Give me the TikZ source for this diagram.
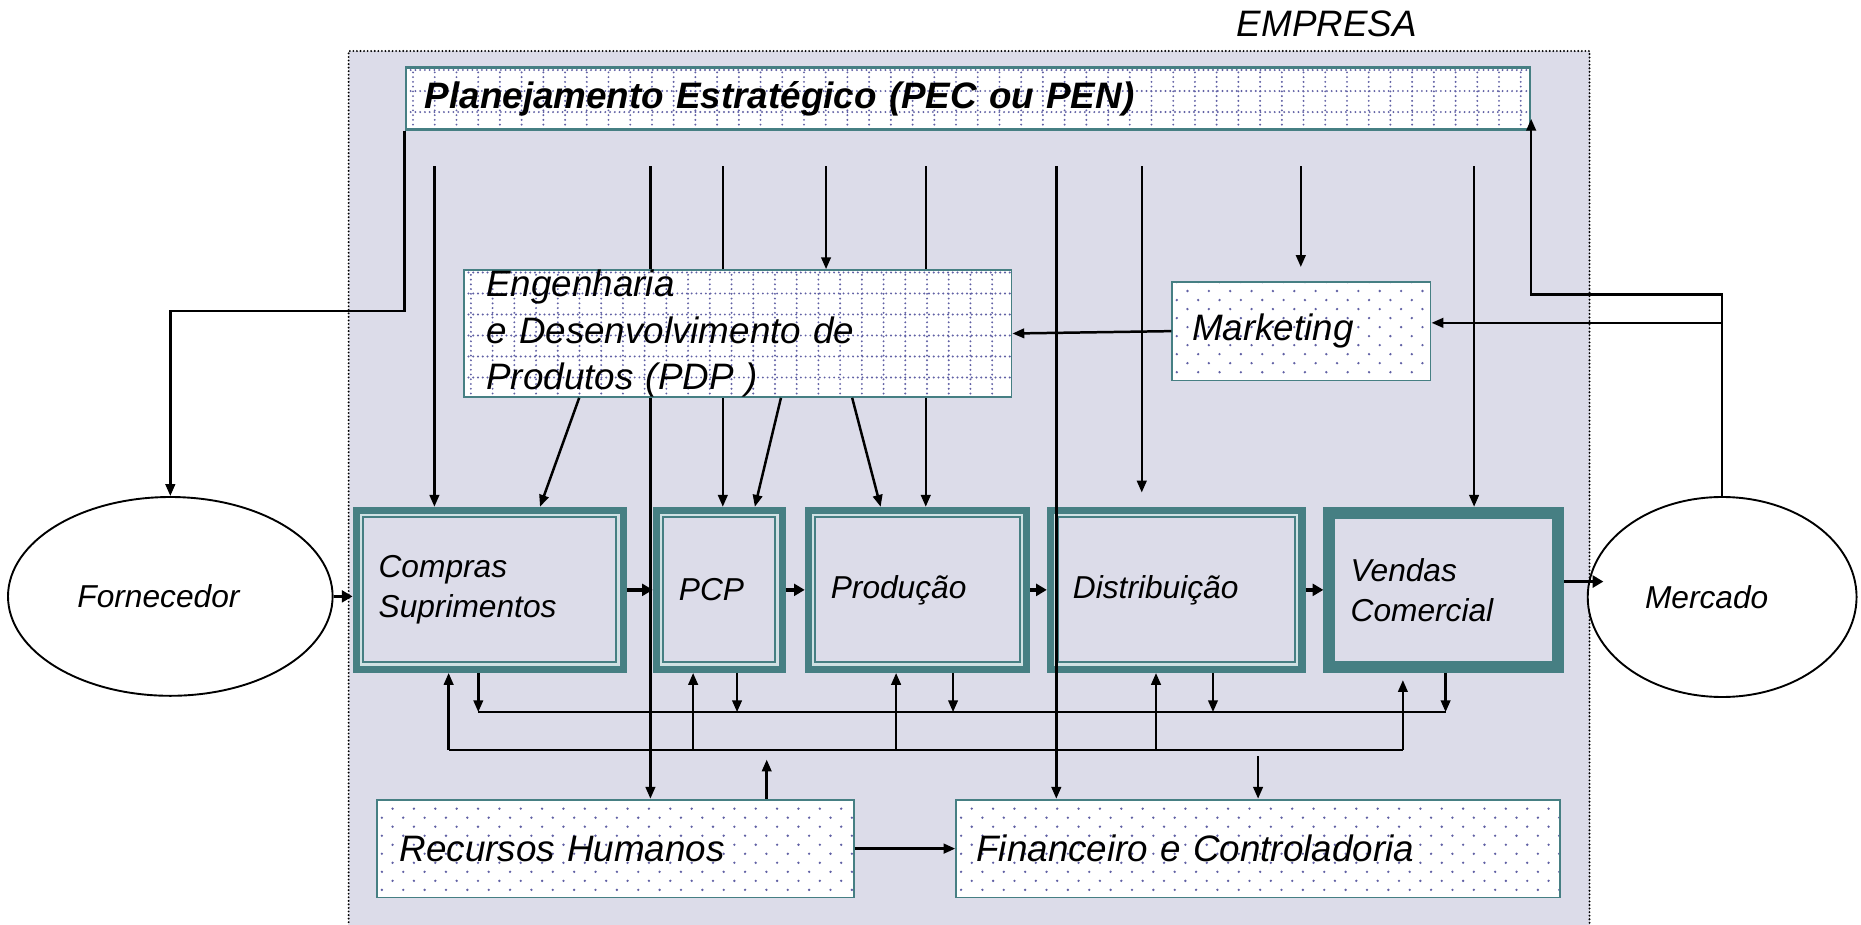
\documentclass[tikz,border=0pt]{standalone}
\usepackage{fontspec}
\setmainfont{Liberation Sans}
\usetikzlibrary{arrows.meta,shapes.geometric}

\definecolor{empresafill}{RGB}{220,220,233}
\definecolor{tealband}{RGB}{70,127,131}
\definecolor{lightband}{RGB}{208,226,228}
\definecolor{patdot}{RGB}{96,96,164}

\tikzset{
  region/.style={draw=black, line width=1.8pt, line cap=round, dash pattern=on 0pt off 3pt, fill=empresafill, inner sep=0pt},
  big/.style={font=\fontsize{31}{39}\selectfont\itshape},
  mid/.style={font=\fontsize{26.7}{34}\selectfont\itshape},
  gridfill/.style={draw=tealband, fill=white, align=left, inner xsep=19pt, inner ysep=0pt, path picture={
      \foreach \i in {0,...,55}
        \draw[patdot, line width=1.8pt, line cap=round, dash pattern=on 0pt off 4pt]
          ([xshift=\i*18.3pt+6pt]path picture bounding box.north west) -- ([xshift=\i*18.3pt+6pt]path picture bounding box.south west);
      \foreach \j in {0,...,7}
        \draw[patdot, line width=1.8pt, line cap=round, dash pattern=on 0pt off 4pt]
          ([yshift=-\j*17.7pt-2pt]path picture bounding box.north west) -- ([yshift=-\j*17.7pt-2pt]path picture bounding box.north east);
    }},
  dotfill/.style={draw=tealband, fill=white, align=left, inner xsep=17pt, path picture={
      \foreach \i in {0,...,60}{
        \pgfmathsetmacro\ph{mod(\i,2)*7.6}
        \draw[patdot, line width=2.2pt, line cap=round, dash pattern=on 0pt off 15.2pt, dash phase=\ph pt]
          ([xshift=\i*9pt+4pt]path picture bounding box.north west) -- ([xshift=\i*9pt+4pt]path picture bounding box.south west);
      }}},
  stagebase/.style={draw=tealband, line width=6pt, fill=empresafill, align=left, inner xsep=19pt, mid, minimum height=134pt},
  stage/.style={stagebase, path picture={
      \draw[lightband, line width=2pt] ([shift={(4.1pt,-4.1pt)}]path picture bounding box.north west) rectangle ([shift={(-4.1pt,4.1pt)}]path picture bounding box.south east);
      \draw[tealband, line width=1.7pt] ([shift={(6pt,-6pt)}]path picture bounding box.north west) rectangle ([shift={(-6pt,6pt)}]path picture bounding box.south east);
    }},
  party/.style={ellipse, draw=black, line width=1.6pt, fill=white, inner sep=0pt, mid},
  conn/.style={line width=2.1pt},
  arr/.style={conn, -{Triangle[length=10pt,width=8pt]}},
  flow/.style={line width=3pt, -{Triangle[length=9pt,width=10pt]}}
}

\begin{document}
\begin{tikzpicture}[x={(1pt,0)}, y={(0,-1pt)}]
\useasboundingbox (0,0) rectangle (1568,779);

\node[region, minimum width=1045.5pt, minimum height=757pt] (empresa) at (816.5,421.5) {};
\node[big] (lblemp) at (1118,20) {EMPRESA};

\node[gridfill, line width=2.2pt, minimum width=947pt, minimum height=52pt, text width=915pt, inner xsep=16pt, font=\fontsize{31}{38}\selectfont\bfseries\itshape] (pec) at (815.5,83) {Planejamento Estratégico (PEC ou PEN)};

\node[party, minimum width=273.5pt, minimum height=167.5pt] (forn) at (143.5,502.5) {Fornecedor\hspace*{20pt}};
\node[party, minimum width=226.5pt, minimum height=168.5pt] (mer) at (1451,503) {Mercado\hspace*{26pt}};

\node[stage, minimum width=225pt, text width=187pt] (cmp) at (412.5,497) {Compras\\Suprimentos};
\node[stage, minimum width=106pt, text width=68pt] (pcp) at (606,497) {PCP};
\node[stage, minimum width=184pt, text width=146pt] (prd) at (773,497) {Produção};
\node[stage, minimum width=212pt, text width=174pt] (dst) at (991,497) {Distribuição};
\node[stagebase, line width=10pt, minimum width=193pt, minimum height=130pt, text width=157pt, inner xsep=18pt] (vnd) at (1216.5,497) {Vendas\\Comercial};

\node[dotfill, line width=1.2pt, big, minimum width=218pt, minimum height=82.8pt, text width=184pt] (mkt) at (1096.5,279) {Marketing};
\node[dotfill, line width=1.5pt, big, minimum width=401.5pt, minimum height=82.5pt, text width=363.5pt, inner xsep=19pt] (rh) at (518.5,715) {Recursos Humanos};
\node[dotfill, line width=1.5pt, big, minimum width=508.5pt, minimum height=82.5pt, text width=474.5pt] (fin) at (1060,715) {Financeiro e Controladoria};

\foreach \n/\x in {a/366,b/548,c/609,d/696,e/780,f/890,g/962,h/1096,i/1242}
  \coordinate (d\n) at (\x,140);

\draw[arr] (db) -- (db |- rh.north);
\draw[arr] (dc) -- (dc |- pcp.north);
\draw[arr] (de) -- (de |- prd.north);

\node[gridfill, line width=1.5pt, big, minimum width=461.5pt, minimum height=106.5pt, text width=423.5pt] (eng) at (621.5,281) {Engenharia\\e Desenvolvimento de\\Produtos (PDP )};

\draw[arr] (da) -- (da |- cmp.north);
\draw[arr] (dd) -- (dd |- eng.north);
\draw[arr] (df) -- (df |- fin.north);
\draw[arr, shorten >=12pt] (dg) -- (dg |- dst.north);
\draw[arr, shorten >=12pt] (dh) -- (dh |- mkt.north);
\draw[arr] (di) -- (di |- vnd.north);

\draw[arr] (pec.south west) -- ++(0,152) -| (forn.north);
\draw[arr] (mer.north) -- ++(0,-170) -| ([yshift=10pt]pec.south east);
\draw[arr] (mer.north) |- ([yshift=7pt]mkt.east);
\draw[arr] (mkt.west) -- (eng.east);

\draw[arr] ([xshift=98pt]eng.south west) -- ([xshift=158pt]cmp.north west);
\draw[arr] ([xshift=268pt]eng.south west) -- ([xshift=86pt]pcp.north west);
\draw[arr] ([xshift=328pt]eng.south west) -- ([xshift=64pt]prd.north west);

\coordinate (mer-in) at ([xshift=14pt]mer.west);
\coordinate (vnd-out) at ([yshift=7pt]vnd.east);
\draw[flow] (forn.east) -- (forn.east -| cmp.west);
\draw[flow] (cmp.east) -- (pcp.west);
\draw[flow] (pcp.east) -- (prd.west);
\draw[flow] (prd.east) -- (dst.west);
\draw[flow] (dst.east) -- (vnd.west);
\draw[flow] (vnd-out) -- (vnd-out -| mer-in);

\coordinate (busa) at (0,600);
\coordinate (busb) at (0,632);
\foreach \b/\s/\t in {cmp/106/81,pcp/71/34,prd/125/77,dst/140/92,vnd/103/67}{
  \coordinate (\b-dn) at ([xshift=\s pt]\b.south west);
  \coordinate (\b-up) at ([xshift=\t pt]\b.south west);
}
\foreach \b in {cmp,pcp,prd,dst,vnd}
  \draw[arr] (\b-dn) -- (\b-dn |- busa);
\draw[conn] (cmp-dn |- busa) -- (vnd-dn |- busa);
\foreach \b in {cmp,pcp,prd,dst}
  \draw[arr] (\b-up |- busb) -- (\b-up);
\draw[arr, shorten >=6pt] (vnd-up |- busb) -- (vnd-up);
\draw[conn] (cmp-up |- busb) -- (vnd-up |- busb);

\coordinate (rh-up) at ([xshift=329pt]rh.north west);
\draw[arr, shorten >=8pt] (rh-up) -- (rh-up |- busb);
\draw[arr, shorten <=5pt] (fin.north |- busb) -- (fin.north);
\draw[arr, line width=2.6pt] (rh.east) -- (fin.west);
\end{tikzpicture}
\end{document}
